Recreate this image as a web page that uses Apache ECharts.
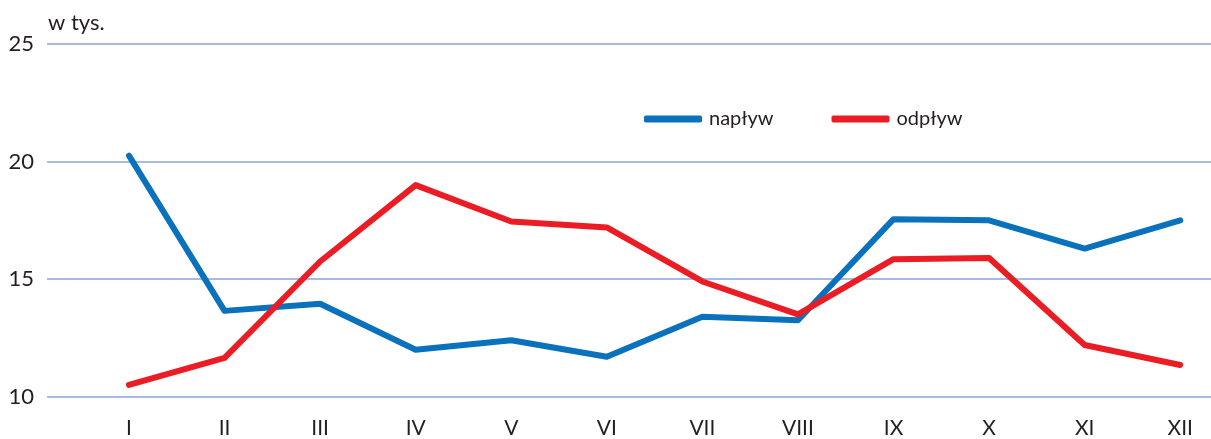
<!DOCTYPE html>
<html lang="pl">
<head>
<meta charset="utf-8">
<title>Napływ i odpływ</title>
<script src="https://cdn.jsdelivr.net/npm/echarts@6/dist/echarts.min.js"></script>
<style>
  html, body { margin: 0; padding: 0; background: #fff; overflow: hidden; }
  /* szerszy od okna: ostatnia kategoria wychodzi poza prawy brzeg */
  #main { width: 1228px; height: 439px; }
</style>
</head>
<body>
<div id="main"></div>
<script>
// miesiące
var months = ['I', 'II', 'III', 'IV', 'V', 'VI', 'VII', 'VIII', 'IX', 'X', 'XI', 'XII'];
// w tys.
var naplyw = [20.25, 13.65, 13.95, 12.0, 12.4, 11.7, 13.4, 13.25, 17.55, 17.5, 16.3, 17.5];
var odplyw = [10.5, 11.65, 15.75, 19.0, 17.45, 17.2, 14.9, 13.5, 15.85, 15.9, 12.2, 11.35];
var yTicks = [10, 15, 20, 25];

var font = 'Lato, "Open Sans", sans-serif';
var myChart = echarts.init(document.getElementById('main'));

var option = {
    animation: false,
    title: {
        text: 'w tys.',
        left: 43,
        top: 7,
        textStyle: { fontFamily: font, fontSize: 22, fontWeight: 'normal', color: '#231f20' }
    },
    legend: {
        left: 639,
        top: 104,
        itemWidth: 58,
        itemHeight: 7,
        itemGap: 58,
        icon: 'roundRect',
        textStyle: { fontFamily: font, fontSize: 20, color: '#231f20', padding: [0, 0, 0, 2] },
        data: ['napływ', 'odpływ']
    },
    grid: [
        // siatka pozioma
        { left: 47, right: 17, top: 44, bottom: 42.3 },
        // serie
        { left: 81.2, right: 0, top: 44, bottom: 42.3 }
    ],
    xAxis: [
        { gridIndex: 0, type: 'category', data: months, show: false },
        {
            gridIndex: 1,
            type: 'category',
            boundaryGap: true,
            data: months,
            axisLine: { show: false },
            axisTick: { show: false },
            axisLabel: { margin: 21, fontFamily: font, fontSize: 21, color: '#231f20' }
        }
    ],
    yAxis: [
        {
            gridIndex: 0,
            type: 'value',
            min: yTicks[0],
            max: yTicks[yTicks.length - 1],
            interval: 5,
            axisLine: { show: false },
            axisTick: { show: false },
            axisLabel: { margin: 13, fontFamily: font, fontSize: 22, color: '#231f20' },
            splitLine: { lineStyle: { color: '#8aa4d8', width: 1.5 } }
        },
        {
            gridIndex: 1,
            type: 'value',
            min: yTicks[0],
            max: yTicks[yTicks.length - 1],
            interval: 5,
            show: false,
            splitLine: { show: false }
        }
    ],
    series: [
        {
            name: 'napływ',
            type: 'line',
            xAxisIndex: 1,
            yAxisIndex: 1,
            data: naplyw,
            symbol: 'none',
            color: '#0a72bd',
            lineStyle: { width: 6, color: '#0a72bd', cap: 'round', join: 'round' }
        },
        {
            name: 'odpływ',
            type: 'line',
            xAxisIndex: 1,
            yAxisIndex: 1,
            data: odplyw,
            symbol: 'none',
            color: '#ec1c24',
            lineStyle: { width: 6, color: '#ec1c24', cap: 'round', join: 'round' }
        }
    ]
};

myChart.setOption(option);
</script>
</body>
</html>
